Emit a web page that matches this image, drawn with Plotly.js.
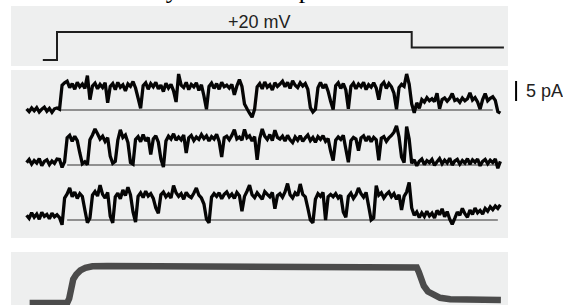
<!DOCTYPE html>
<html><head><meta charset="utf-8">
<script src="https://cdn.plot.ly/plotly-3.0.1.min.js"></script>
<style>html,body{margin:0;padding:0;background:#fff;}#chart{width:563px;height:305px;}</style>
</head><body><div id="chart"></div>
<script>
// ---- data ----
const headerText = 'ance of the delayed rectifier potassium current';
// voltage protocol (ms, mV)
const vTime = [-14, 0, 0, 350, 350, 441];
const vMv = [-80, -80, 20, 20, -35, -35];
const stepLabel = '+20 mV';
// single-channel sweeps (pA), sampled from sweepStart every sweepDt ms
const sweepStart = -30;
const sweepDt = 2.5;
const sweep1 = [0.3,-0.4,0.5,-0.2,0.6,-0.5,0.2,0.7,-0.3,0.4,-0.6,0.3,0.5,
 0.2,
 6.2,6.8,7.2,5.6,6.6,5.2,6.9,
 5.8,6.5,5.4,8.6,2.6,6.0,6.7,5.3,6.4,
 5.6,6.8,1.8,5.9,6.6,5.1,6.9,5.7,6.3,4.8,
 6.5,5.9,7.1,5.5,3.0,0.4,6.1,6.8,5.2,6.6,
 5.8,6.9,5.3,6.2,4.6,6.7,5.5,6.4,4.8,2.0,
 9.0,6.2,5.6,6.9,5.1,6.4,5.8,6.8,4.9,6.3,
 3.5,0.2,5.9,6.7,5.4,6.6,5.2,6.9,5.8,6.2,
 5.5,6.4,3.8,6.0,7.6,5.9,1.5,0.3,-0.8,-1.8,
 0.2,5.8,6.6,5.3,7.0,5.7,6.3,5.0,6.8,5.9,
 6.5,7.2,5.8,6.9,5.4,7.3,6.2,5.6,6.8,6.0,
 6.6,5.2,0.6,-0.5,0.2,5.6,6.9,5.5,6.4,4.7,
 2.2,0.1,6.1,6.8,5.4,6.6,5.0,0.3,5.9,6.7,
 5.3,6.5,5.8,6.9,5.1,6.3,5.7,6.8,5.5,2.6,
 6.2,6.9,5.4,6.6,5.8,4.2,0.2,5.6,6.4,5.9,
 9.0,6.5,
 1.5,-0.7,1.8,0.4,2.6,2.0,3.1,2.3,
 2.8,2.1,4.2,0.3,2.6,3.0,2.2,2.9,4.1,2.4,
 2.7,1.9,3.0,2.3,2.8,4.3,2.5,3.1,2.0,0.2,
 2.6,4.1,2.3,2.9,3.3,2.4,-0.4,-0.8];
const sweep2 = [0.6,1.4,0.2,1.1,0.5,1.6,-0.2,0.9,1.3,0.1,1.0,0.4,1.5,
 1.4,-0.6,0.8,
 6.8,7.4,5.9,7.2,6.1,
 3.0,0.3,0.8,0.1,
 6.3,7.5,9.0,7.8,6.5,7.2,5.9,6.8,
 2.2,0.4,0.9,
 6.2,8.8,6.9,7.5,5.6,
 0.6,0.2,
 6.4,7.1,5.8,7.6,6.0,6.9,2.6,
 6.5,7.3,5.7,1.5,-0.5,
 6.0,7.2,6.5,7.8,6.2,
 7.0,6.3,7.5,3.0,6.8,7.4,6.1,7.0,6.4,7.6,
 6.6,7.3,6.0,7.1,6.5,7.7,5.9,2.0,6.8,7.2,
 6.3,7.4,8.8,6.5,7.0,6.2,8.9,6.8,7.3,6.0,
 7.1,1.3,6.6,9.0,7.2,6.4,7.6,6.1,8.7,6.9,
 6.5,7.2,6.0,7.4,6.3,5.6,7.0,6.2,7.3,5.9,
 6.8,7.5,6.1,6.9,5.7,7.1,6.4,7.3,5.9,6.6,
 3.5,1.1,6.2,7.0,6.4,7.4,4.0,0.7,6.1,6.9,
 6.5,3.6,6.8,7.3,6.0,7.2,5.8,6.9,6.3,1.2,
 6.7,7.1,5.9,6.8,7.4,8.2,9.8,7.0,2.0,0.6,
 9.6,6.5,
 0.4,1.3,-0.2,0.9,1.5,0.1,1.1,0.6,1.4,-0.1,
 0.8,1.6,0.3,1.2,0.5,1.7,0.0,1.0,1.4,0.2,
 1.1,0.5,1.6,0.2,1.3,0.7,1.5,-0.2,0.9,1.4,
 0.3,1.2,0.6,1.5,-0.8,0.9];
const sweep3 = [1.2,0.4,1.8,0.7,1.5,0.2,1.9,0.9,1.4,0.3,1.7,0.8,1.3,
 0.6,-1.2,
 5.5,
 6.5,8.0,5.8,7.0,5.4,
 6.6,5.9,2.5,-0.7,0.5,6.2,7.1,6.0,8.7,
 6.4,5.5,6.9,1.0,-0.7,5.8,6.7,5.3,7.5,6.1,
 8.2,6.3,2.0,-0.5,5.9,6.8,5.6,7.2,6.0,6.6,
 5.4,3.0,1.7,6.3,7.0,5.8,6.5,5.5,8.6,6.8,
 5.9,6.6,5.2,6.9,6.0,5.6,6.7,8.0,6.2,5.5,
 4.0,0.2,-0.7,5.7,6.6,5.9,6.8,5.3,6.4,7.0,
 5.8,6.5,5.4,6.9,6.1,2.2,5.9,7.2,8.7,6.3,
 5.6,6.8,6.0,5.2,7.1,6.4,5.8,6.9,2.8,6.1,
 6.6,5.7,7.0,9.1,6.3,5.5,6.8,6.1,9.0,6.4,
 5.8,3.0,0.0,-0.7,5.2,6.6,5.9,6.9,0.0,5.8,
 6.4,5.8,6.6,5.5,6.2,2.0,0.7,5.9,6.7,5.4,
 6.3,8.0,6.6,5.7,6.9,3.5,0.0,0.5,8.6,6.2,
 6.8,5.5,6.4,7.0,5.8,6.6,5.2,6.3,2.5,5.9,
 7.0,9.4,
 3.0,1.2,2.0,0.6,1.8,0.9,2.2,1.0,
 1.7,0.5,2.4,1.3,2.8,0.8,2.1,0.2,-1.1,0.4,
 2.0,1.2,2.9,1.6,0.7,2.5,1.4,3.0,1.8,2.4,
 1.5,2.9,2.2,3.3,2.6,3.5,2.9,3.8];
// zero-current reference lines (ms)
const zeroStart = [3, 10, 10];
const zeroEnd = [430, 435, 435];
const scaleBarPa = 5;
const scaleLabel = '5 pA';
// ensemble average (normalised)
const avgTime = [-27, 10, 12, 13, 14, 16, 19, 23, 28, 35, 50, 352, 355, 357, 359, 362, 366, 371, 378, 388, 405, 438];
const avgNorm = [0, 0, 0.12, 0.27, 0.45, 0.64, 0.77, 0.88, 0.95, 0.99, 1.0, 1.0, 0.96, 0.84, 0.65, 0.46, 0.31, 0.22, 0.14, 0.10, 0.09, 0.08];

// ---- layout helpers ----
const H = 305, W = 563;
const py = p => (H - p) / H;   // pixel row -> paper fraction
const px = p => p / W;
const sweeps = [sweep1, sweep2, sweep3];
const sweepAxes = ['y2', 'y3', 'y4'];

const traces = [];
traces.push({x: vTime, y: vMv, xaxis: 'x', yaxis: 'y', mode: 'lines',
  line: {color: '#1e1e1e', width: 2}, hoverinfo: 'skip'});
for (let k = 0; k < 3; k++) {
  traces.push({x: [zeroStart[k], zeroEnd[k]], y: [0, 0], xaxis: 'x', yaxis: sweepAxes[k],
    mode: 'lines', line: {color: '#333', width: 1.2}, hoverinfo: 'skip'});
}
for (let k = 0; k < 3; k++) {
  traces.push({y: sweeps[k], x0: sweepStart, dx: sweepDt, xaxis: 'x', yaxis: sweepAxes[k],
    mode: 'lines', line: {color: '#050505', width: 3.3, simplify: false}, hoverinfo: 'skip'});
}
traces.push({x: [453, 453], y: [2.25, 2.25 + scaleBarPa], xaxis: 'x', yaxis: 'y2', mode: 'lines',
  line: {color: '#000', width: 2}, hoverinfo: 'skip'});
traces.push({x: avgTime, y: avgNorm, xaxis: 'x', yaxis: 'y5', mode: 'lines',
  line: {color: '#4b4b4b', width: 6.5}, hoverinfo: 'skip'});

const hidden = {visible: false, fixedrange: true};
const gray = '#eeefef';
const layout = {
  width: W, height: H, margin: {l: 0, r: 0, t: 0, b: 0},
  paper_bgcolor: '#fff', plot_bgcolor: 'rgba(0,0,0,0)', showlegend: false,
  xaxis: Object.assign({domain: [0, 1], range: [-56.25, 499.3]}, hidden),
  yaxis: Object.assign({domain: [py(66), py(6)], range: [-101.43, 112.86], anchor: 'x'}, hidden),
  yaxis2: Object.assign({domain: [py(126), py(70)], range: [-4, 10], anchor: 'x'}, hidden),
  yaxis3: Object.assign({domain: [py(182), py(118)], range: [-4.25, 11.75], anchor: 'x'}, hidden),
  yaxis4: Object.assign({domain: [py(238), py(175)], range: [-4.5, 11.25], anchor: 'x'}, hidden),
  yaxis5: Object.assign({domain: [0, py(252)], range: [-0.054, 1.378], anchor: 'x'}, hidden),
  shapes: [
    {type: 'rect', xref: 'paper', yref: 'paper', x0: px(11), x1: px(508), y0: py(66), y1: py(6), fillcolor: gray, line: {width: 0}, layer: 'below'},
    {type: 'rect', xref: 'paper', yref: 'paper', x0: px(11), x1: px(508), y0: py(238), y1: py(70), fillcolor: gray, line: {width: 0}, layer: 'below'},
    {type: 'rect', xref: 'paper', yref: 'paper', x0: px(11), x1: px(508), y0: -0.05, y1: py(252), fillcolor: gray, line: {width: 0}, layer: 'below'}
  ],
  annotations: [
    {text: stepLabel, xref: 'x', yref: 'y', x: 200, y: 20, xanchor: 'center', yanchor: 'bottom', yshift: -2,
     showarrow: false, font: {family: 'Liberation Sans, Arial, sans-serif', size: 18, color: '#222'}},
    {text: scaleLabel, xref: 'x', yref: 'y2', x: 461, y: 4.75, xanchor: 'left', yanchor: 'middle',
     showarrow: false, font: {family: 'Liberation Sans, Arial, sans-serif', size: 18, color: '#222'}},
    {text: headerText, xref: 'paper', yref: 'paper', x: 0, y: 1, xanchor: 'left', yanchor: 'bottom', yshift: -6,
     showarrow: false, font: {family: 'Liberation Serif, Times New Roman, serif', size: 26, color: '#000'}}
  ]
};
Plotly.newPlot('chart', traces, layout, {staticPlot: true, displayModeBar: false});
</script></body></html>
